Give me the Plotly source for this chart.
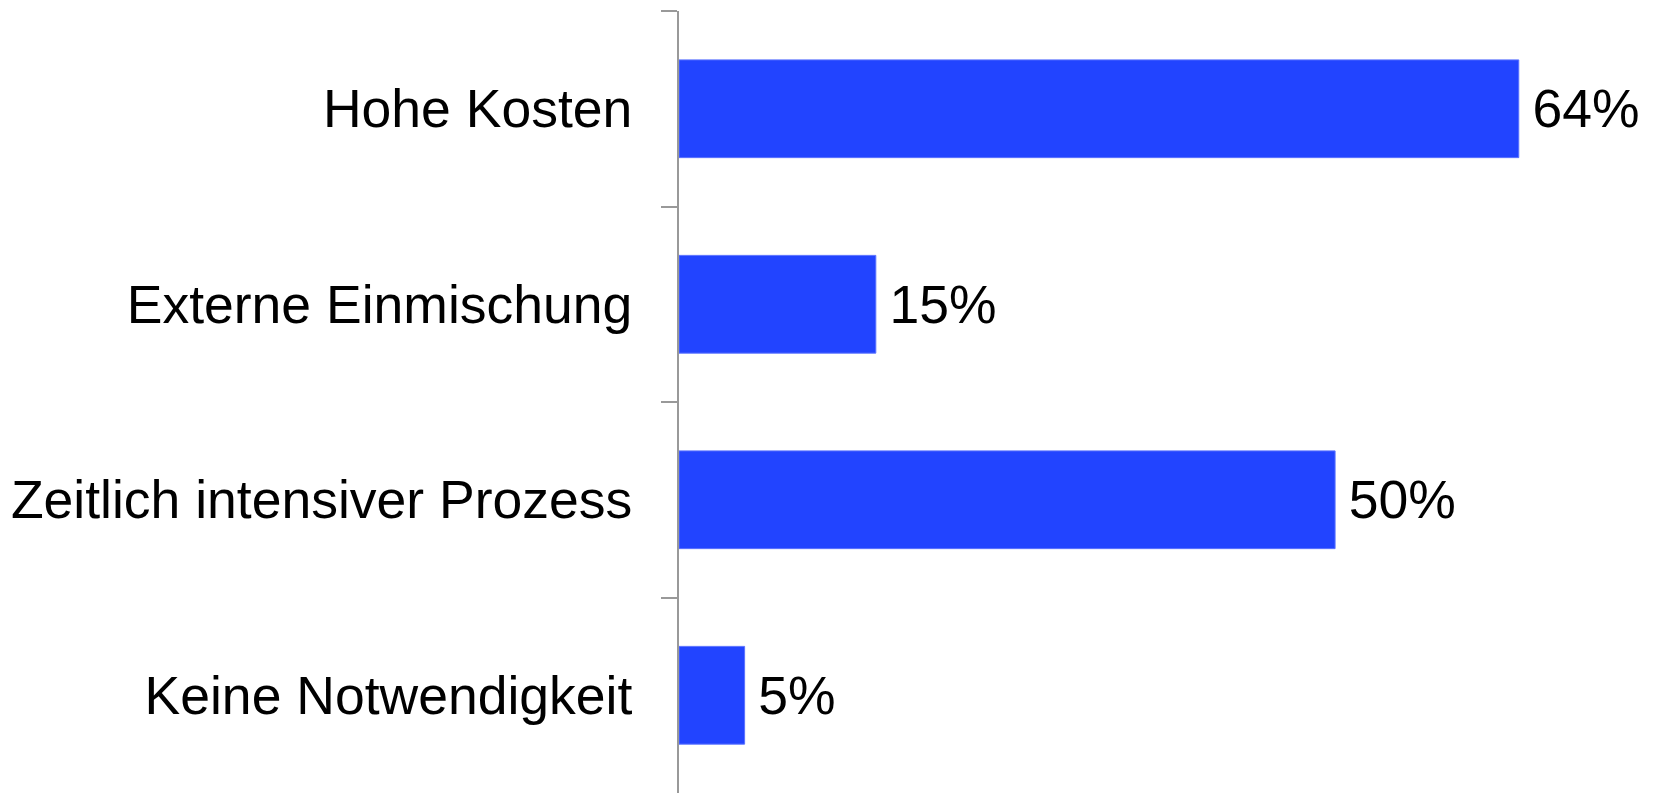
import plotly.graph_objects as go

categories = ["Hohe Kosten", "Externe Einmischung", "Zeitlich intensiver Prozess", "Keine Notwendigkeit"]
values = [64, 15, 50, 5]
labels = ["64%", "15%", "50%", "5%"]

fig = go.Figure(go.Bar(
    x=values, y=categories, orientation="h",
    marker=dict(color="#2244FF", line=dict(color="#5a72ff", width=1)),
    text=["\u2009" + l for l in labels], textposition="outside", cliponaxis=False,
    textfont=dict(family="Liberation Sans, Arial, sans-serif", size=53.5, color="#000000"),
    width=0.5,
))

fig.update_layout(
    width=1654, height=793,
    margin=dict(l=671, r=12, t=3, b=8),
    paper_bgcolor="white", plot_bgcolor="white",
    showlegend=False,
    font=dict(family="Liberation Sans, Arial, sans-serif", size=53.5, color="#000000"),
    xaxis=dict(range=[0, 74], visible=False, showgrid=False, zeroline=False),
    yaxis=dict(
        categoryorder="array", categoryarray=categories, autorange="reversed",
        showline=True, linecolor="#999999", linewidth=2,
        ticks="outside", ticklen=16, tickcolor="#999999", tickwidth=2,
        tickson="boundaries", showgrid=False, zeroline=False,
        ticklabelstandoff=34,
        tickfont=dict(size=53.5, color="#000000"),
    ),
)

fig.write_html("out.html")
